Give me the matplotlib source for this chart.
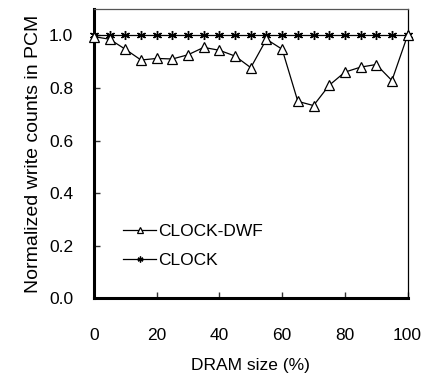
import matplotlib
matplotlib.use("Agg")
import matplotlib.pyplot as plt

# DRAM size (%) on x, normalized PCM write counts on y
dram_size = [0, 5, 10, 15, 20, 25, 30, 35, 40, 45, 50,
             55, 60, 65, 70, 75, 80, 85, 90, 95, 100]
clock_dwf = [0.995, 0.985, 0.947, 0.906, 0.912, 0.910, 0.926, 0.954, 0.943, 0.921, 0.877,
             0.985, 0.947, 0.749, 0.733, 0.810, 0.860, 0.879, 0.889, 0.828, 1.0]
clock = [1.0] * len(dram_size)

x_ticks = [0, 20, 40, 60, 80, 100]
y_ticks = [0.0, 0.2, 0.4, 0.6, 0.8, 1.0]

plt.rcParams['font.family'] = ['Liberation Sans', 'DejaVu Sans']
fs = 12.5

fig = plt.figure(figsize=(4.35, 3.74), dpi=100)
ax = fig.add_axes([0.216, 0.202, 0.721, 0.774])

ax.plot(dram_size, clock_dwf, color='black', lw=0.9, marker='^', ms=7,
        mfc='white', mec='black', mew=0.9, clip_on=False, label='CLOCK-DWF', zorder=3)
ax.plot(dram_size, clock, color='black', lw=0.9, marker=(6, 2, 0), ms=6.5,
        mec='black', mew=1.0, clip_on=False, label='CLOCK', zorder=2)

ax.set_xlim(0, 100)
ax.set_ylim(0, 1.1)
ax.set_xticks(x_ticks)
ax.set_yticks(y_ticks)
ax.set_xticklabels([str(v) for v in x_ticks], fontsize=fs)
ax.set_yticklabels([f"{v:.1f}" for v in y_ticks], fontsize=fs)
ax.tick_params(axis='both', direction='in', length=4, width=1, color='#333333')
ax.tick_params(axis='x', pad=21)
ax.tick_params(axis='y', pad=15)

for side in ('left', 'bottom'):
    ax.spines[side].set_linewidth(2.2)
for side in ('top', 'right'):
    ax.spines[side].set_linewidth(0.9)
ax.spines['top'].set_color('#555555')

ax.set_xlabel('DRAM size (%)', fontsize=fs, labelpad=11)
ax.set_ylabel('Normalized write counts in PCM', fontsize=14, labelpad=5)

leg = ax.legend(loc='lower left', bbox_to_anchor=(0.044, 0.05), frameon=False,
                fontsize=fs, handlelength=1.9, handletextpad=0.1,
                labelspacing=0.8, markerscale=0.65)

fig.savefig('out.png', dpi=100)
